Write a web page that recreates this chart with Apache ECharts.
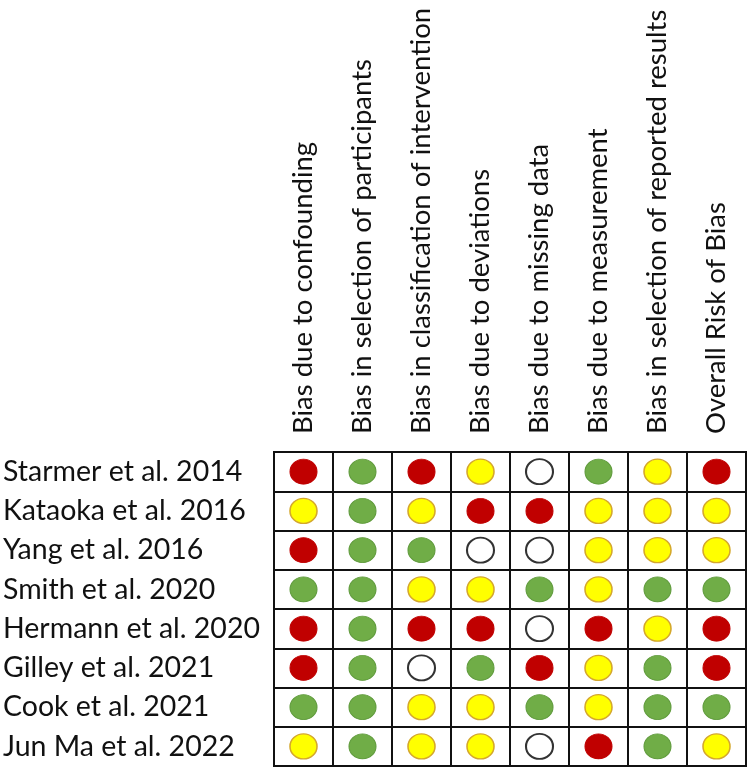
<!DOCTYPE html>
<html>
<head>
<meta charset="utf-8">
<script src="https://cdn.jsdelivr.net/npm/echarts@6/dist/echarts.min.js"></script>
<style>
  html, body { margin: 0; padding: 0; background: #fff; }
  #chart { width: 749px; height: 772px; }
</style>
</head>
<body>
<div id="chart"></div>
<script>
// domains (columns)
const domains = [
  "Bias due to confounding",
  "Bias in selection of participants",
  "Bias in classification of intervention",
  "Bias due to deviations",
  "Bias due to missing data",
  "Bias due to measurement",
  "Bias in selection of reported results",
  "Overall Risk of Bias"
];

// studies (rows)
const studies = [
  "Starmer et al. 2014",
  "Kataoka et al. 2016",
  "Yang et al. 2016",
  "Smith et al. 2020",
  "Hermann et al. 2020",
  "Gilley et al. 2021",
  "Cook et al. 2021",
  "Jun Ma et al. 2022"
];

// H = high (red), L = low (green), M = moderate (yellow), N = no information (empty)
const ratings = [
  ["H", "L", "H", "M", "N", "L", "M", "H"],
  ["M", "L", "M", "H", "H", "M", "M", "M"],
  ["H", "L", "L", "N", "N", "M", "M", "M"],
  ["L", "L", "M", "M", "L", "M", "L", "L"],
  ["H", "L", "H", "H", "N", "H", "M", "H"],
  ["H", "L", "N", "L", "H", "M", "L", "H"],
  ["L", "L", "M", "M", "L", "M", "L", "L"],
  ["M", "L", "M", "M", "N", "H", "L", "M"]
];

const styles = {
  H: { color: "#c00000", borderColor: "#c00000", borderWidth: 1, opacity: 1 },
  L: { color: "#70ad47", borderColor: "#5f9a3c", borderWidth: 1, opacity: 1 },
  M: { color: "#ffff00", borderColor: "#d4a72c", borderWidth: 1.5, opacity: 1 },
  N: { color: "#ffffff", borderColor: "#333333", borderWidth: 2, opacity: 1 }
};

const points = [];
ratings.forEach((row, r) => {
  row.forEach((v, c) => {
    points.push({ value: [c, r, v], itemStyle: styles[v] });
  });
});

const font = "Lato";
const chart = echarts.init(document.getElementById("chart"));
chart.setOption({
  animation: false,
  grid: {
    left: 273, right: 3, top: 452, bottom: 6,
    show: true, borderColor: "#111", borderWidth: 2
  },
  xAxis: {
    type: "category",
    position: "top",
    data: domains,
    axisLine: { show: true, lineStyle: { color: "#111", width: 2 } },
    axisTick: { show: false },
    splitLine: { show: true, lineStyle: { color: "#111", width: 2 } },
    axisLabel: {
      rotate: -90, margin: 18, fontSize: 27.5, fontFamily: font,
      color: "#111", interval: 0
    }
  },
  yAxis: {
    type: "category",
    inverse: true,
    data: studies,
    axisLine: { show: true, lineStyle: { color: "#111", width: 2 } },
    axisTick: { show: false },
    splitLine: { show: true, lineStyle: { color: "#111", width: 2 } },
    axisLabel: {
      align: "left", margin: 271, fontSize: 28.5, fontFamily: font,
      color: "#111", interval: 0, padding: [8, 0, 0, 0]
    }
  },
  series: [{
    type: "scatter",
    symbol: "circle",
    symbolSize: [27, 25],
    itemStyle: { opacity: 1 },
    data: points
  }]
});
</script>
</body>
</html>
